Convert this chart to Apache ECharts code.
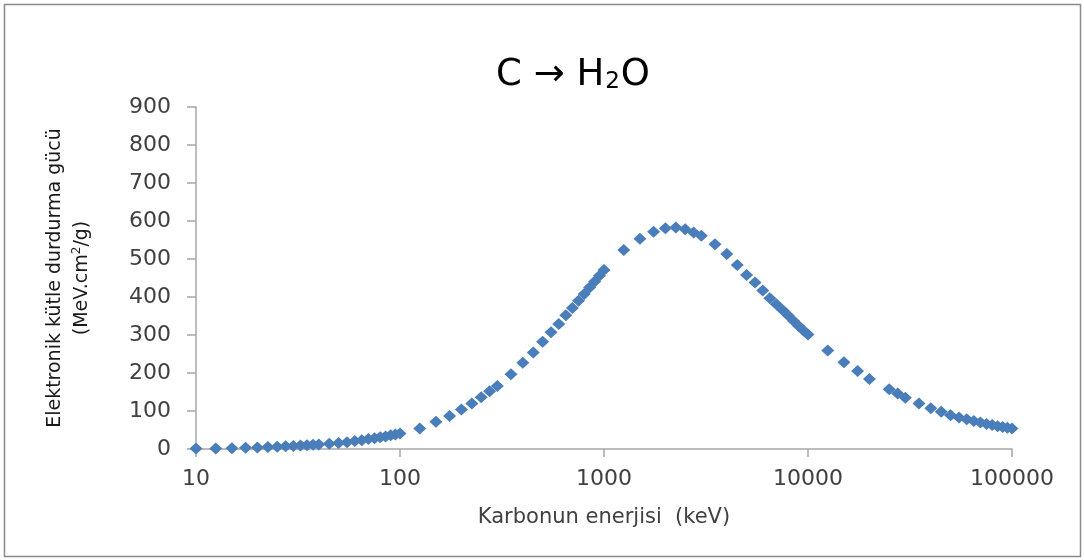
<!DOCTYPE html>
<html>
<head>
<meta charset="utf-8">
<script src="https://cdn.jsdelivr.net/npm/echarts@6/dist/echarts.min.js"></script>
<style>
html,body{margin:0;padding:0;background:#fff;}
#chart{width:1084px;height:560px;}
</style>
</head>
<body>
<div id="chart"></div>
<script>
// Carbon energy (keV)
const energyLow = [10,12.5,15,17.5,20,22.5,25,27.5,30,32.5,35,37.5,40,45,50,55,60,65,70,75,80,85,90,95,100];
const stoppingLow = [1,1.5,2,3,4,5,6,7,8,9,10,11,12,14,16,18,21,23,26,28,31,33,36,38,41];

const energyMid = [125,150,175,200,225,250,275,300,350,400,450,500,550,600,650,700,750,800,850,900,950,1000];
const stoppingMid = [54,72,87,104,120,136,152,166,197,227,254,282,307,329,352,371,390,408,425,441,456,471];

const energyPeak = [1250,1500,1750,2000,2250,2500,2750,3000,3500,4000,4500,5000,5500,6000,6500,7000,7500,8000,8500,9000,9500,10000];
const stoppingPeak = [524,553,572,581,583,578,570,561,539,513,484,458,438,417,397,381,366,351,337,324,312,301];

const energyHigh = [12500,15000,17500,20000,25000,27500,30000,35000,40000,45000,50000,55000,60000,65000,70000,75000,80000,85000,90000,95000,100000];
const stoppingHigh = [259,228,205,184,157,146,135,120,107,98,89,83,78,74,70,66,63,60,58,56,54];

const energies = energyLow.concat(energyMid, energyPeak, energyHigh);
const stopping = stoppingLow.concat(stoppingMid, stoppingPeak, stoppingHigh);

const xTickLabels = ['10','100','1000','10000','100000'];
const yTickLabels = ['0','100','200','300','400','500','600','700','800','900'];

const points = energies.map((e, i) => [e, stopping[i]]);

const chart = echarts.init(document.getElementById('chart'), null, {renderer: 'canvas'});
const FONT = 'DejaVu Sans';
chart.setOption({
  animation: false,
  backgroundColor: '#ffffff',
  graphic: [{
    type: 'rect', z: -1, silent: true,
    shape: {x: 4.5, y: 4.5, width: 1076, height: 552},
    style: {fill: 'none', stroke: '#8a8a8a', lineWidth: 1.5}
  }, {
    type: 'text', silent: true, x: 573, y: 75,
    style: {
      text: '{a|C → H}{s|2}{a|O}',
      align: 'center', verticalAlign: 'middle',
      rich: {
        a: {fontFamily: FONT, fontSize: 37, fontWeight: 'normal', fill: '#000', lineHeight: 46, verticalAlign: 'middle'},
        s: {fontFamily: FONT, fontSize: 23, fontWeight: 'normal', fill: '#000', lineHeight: 46, verticalAlign: 'bottom', padding: [0,1,4,1]}
      }
    }
  }],
  grid: {left: 196, right: 72, top: 107, bottom: 111, containLabel: false},
  xAxis: {
    type: 'log', logBase: 10, min: 10, max: 100000,
    name: 'Karbonun enerjisi  (keV)',
    nameLocation: 'middle', nameGap: 58,
    nameTextStyle: {fontFamily: FONT, fontSize: 21, color: '#404040'},
    axisLine: {lineStyle: {color: '#a6a6a6', width: 1.5}},
    axisTick: {show: true, length: 8, lineStyle: {color: '#a6a6a6', width: 1.5}},
    minorTick: {show: false},
    splitLine: {show: false},
    axisLabel: {
      margin: 19, fontFamily: FONT, fontSize: 22, color: '#404040',
      formatter: v => { const k = Math.round(Math.log10(v)) - 1; return xTickLabels[k] !== undefined ? xTickLabels[k] : String(v); }
    }
  },
  yAxis: {
    type: 'value', min: 0, max: 900, interval: 100,
    name: '{t|Elektronik kütle durdurma gücü}\n{t|(MeV.cm}{p|2}{t|/g)}',
    nameLocation: 'middle', nameRotate: 90, nameGap: 100,
    nameTextStyle: {
      color: '#1a1a1a',
      rich: {
        t: {fontFamily: FONT, fontSize: 19, color: '#1a1a1a', lineHeight: 27, verticalAlign: 'middle'},
        p: {fontFamily: FONT, fontSize: 12, color: '#1a1a1a', lineHeight: 27, verticalAlign: 'top', padding: [2,0,0,0]}
      }
    },
    axisLine: {show: true, lineStyle: {color: '#a6a6a6', width: 1.5}},
    axisTick: {show: true, length: 9, lineStyle: {color: '#a6a6a6', width: 1.5}},
    splitLine: {show: false},
    axisLabel: {
      margin: 25, fontFamily: FONT, fontSize: 22, color: '#404040',
      formatter: v => { const k = Math.round(v / 100); return yTickLabels[k] !== undefined ? yTickLabels[k] : String(v); }
    }
  },
  series: [{
    type: 'scatter',
    data: points,
    symbol: 'diamond',
    symbolSize: [13, 12],
    itemStyle: {color: '#4A7EBB', opacity: 1},
    clip: false
  }]
});
</script>
</body>
</html>
